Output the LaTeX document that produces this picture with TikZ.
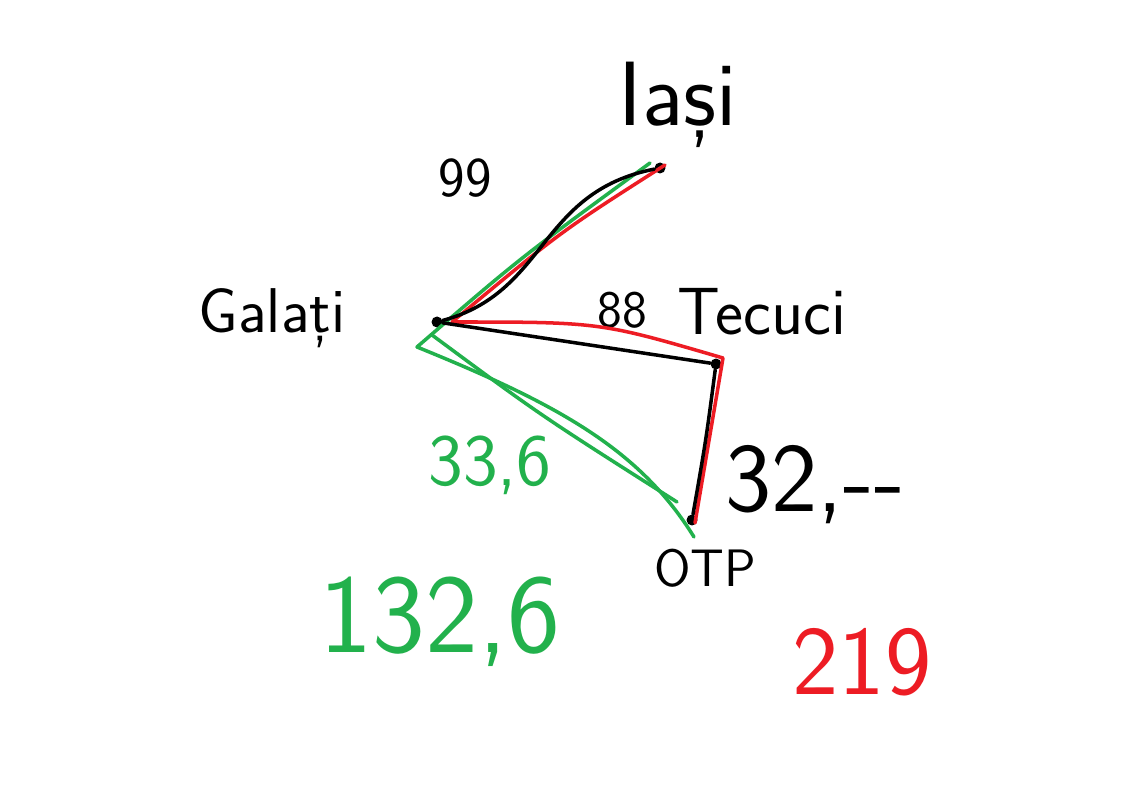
\documentclass[tikz,border=0pt]{standalone}
\usepackage{fontspec}
\usetikzlibrary{positioning}
\definecolor{PaintGreen}{HTML}{22B14C}
\definecolor{PaintRed}{HTML}{ED1C24}

\begin{document}
\begin{tikzpicture}[x=0.02cm,y=-0.02cm,
  city/.style={circle,fill=black,inner sep=0pt,minimum size=2.2mm},
  lbl/.style={inner sep=0pt,font=\sffamily\fontsize{#1}{#1}\selectfont},
  road/.style={line width=2pt,line cap=round,line join=round}]
\useasboundingbox[fill=white] (0,0) rectangle (1136,800);
% towns
\node[city] (iasi) at (660,168) {};
\node[city] (gal)  at (437,322) {};
\node[city] (tec)  at (716,364) {};
\node[city] (otp)  at (692,520) {};
% red and green routes leave the towns a little apart
\coordinate (iasiR) at (665,165); \coordinate (galR) at (452,322);
\coordinate (tecR)  at (723,358); \coordinate (otpR) at (695,523);
\coordinate (iasiG) at (650,163); \coordinate (galG) at (417,347);
\coordinate (otpG)  at (694,537); \coordinate (galGb) at (432,335);
\coordinate (otpGb) at (677,502);
% names and distances
\node[lbl=52] (niasi) at (678,105) {Iași};
\node[lbl=36] (ngal)  at (272,318) {Galați};
\node[lbl=38] (ntec)  at (762,312) {Tecuci};
\node[lbl=30] (notp)  at (705,568) {OTP};
\node[lbl=32] (d99)   at (465,178) {99};
\node[lbl=30] (d88)   at (622,310) {88};
\node[lbl=56,text=black] (d32) at (815,485) {32,-{}-};
\node[lbl=42,text=PaintGreen] (d336) at (490,465) {33,6};
\node[lbl=64,text=PaintGreen] (sumG) at (440,622) {132,6};
\node[lbl=56,text=PaintRed]   (sumR) at (862,662) {219};
% red route
\draw[road,PaintRed] (iasiR) .. controls (560,232) .. (galR)
  .. controls (600,322) .. (tecR) -- (otpR);
% green route
\draw[road,PaintGreen] (iasiG) .. controls (520,258) .. (galG)
  .. controls (560,405) and (640,450) .. (otpG);
\draw[road,PaintGreen] (galGb) .. controls (540,415) .. (otpGb);
% black route
\draw[road] (gal) .. controls (548,292) and (538,192) .. (iasi);
\draw[road] (gal) -- (tec);
\draw[road] (tec) .. controls (706,440) .. (otp);
\end{tikzpicture}
\end{document}
